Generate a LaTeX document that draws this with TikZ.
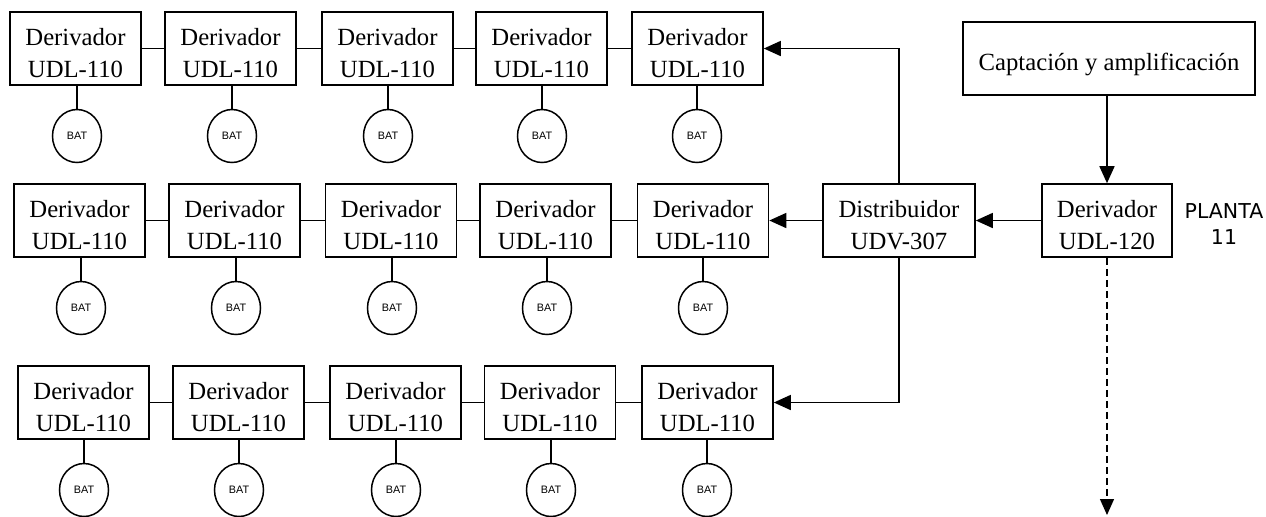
\documentclass[tikz,border=0pt]{standalone}
\usepackage{fontspec}
\setmainfont{Liberation Serif}
\newfontfamily\plantafont{DejaVu Sans}
\newfontfamily\batfont{Liberation Sans}
\usetikzlibrary{arrows.meta,shapes.geometric}

% two-line box label; the strut sets the first line's height
\newcommand{\boxlines}[2]{\rule{0pt}{13pt}#1\\#2}

\tikzset{
  unitbox/.style={draw, line width=0.8pt, minimum width=65.5pt, minimum height=36.5pt,
    inner sep=0pt, align=center, font=\fontsize{12.35}{16}\selectfont},
  batcell/.style={draw, ellipse, line width=0.75pt, minimum width=24.5pt, minimum height=26.5pt,
    inner sep=0pt, font=\batfont\fontsize{5.4}{6}\selectfont},
  link/.style={line width=0.8pt},
  feed/.style={line width=0.8pt, -{Triangle[length=8.5pt,width=7.5pt]}},
  downlink/.style={line width=0.65pt, dash pattern=on 3.5pt off 2pt, -{Triangle[length=8pt,width=7pt]}}
}

\begin{document}
\begin{tikzpicture}[x=0.5pt, y=-0.5pt]
  \useasboundingbox (0,0) rectangle (1266,516);

  % three rows of line taps, each with its battery
  \foreach \r/\by/\cy/\bxs/\cxs in {
      1/48.5/136/{75.5,230.5,387.5,541.5,697.5}/{77,232,388,542,697},
      2/220.5/308/{79.5,234.5,391,545.5,703}/{81,236,392,547,703},
      3/402.5/490/{83.5,238.5,395.5,550,707.5}/{84,239,396,551,707}} {
    \foreach \bx [count=\c] in \bxs {
      \node[unitbox] (r\r c\c) at (\bx,\by) {\boxlines{Derivador}{UDL-110}};
    }
    \foreach \cx [count=\c] in \cxs {
      \node[batcell] (b\r c\c) at (\cx,\cy) {BAT};
      \draw[link] (b\r c\c.north) -- (b\r c\c.north |- r\r c\c.south);
    }
    \foreach \a/\b in {1/2,2/3,3/4,4/5} {
      \draw[link] (r\r c\a.east) -- (r\r c\b.west);
    }
  }

  % head end, floor tap and distributor
  \node[unitbox, minimum width=146pt, text height=12pt, text depth=0pt]
    (head) at (1109,58.5) {Captación y amplificación};
  \node[unitbox, minimum width=65pt] (tap) at (1107,220.5) {\boxlines{Derivador}{UDL-120}};
  \node[unitbox, minimum width=76pt] (dist) at (899,220.5) {\boxlines{Distribuidor}{UDV-307}};
  \node[font=\plantafont\fontsize{10.25}{13}\selectfont, align=center, inner sep=0pt]
    (floor) at (1224,224) {PLANTA\\11};
  \coordinate (below) at (1107,515);

  \draw[feed] (head.south -| tap.north) -- (tap.north);
  \draw[feed] (tap.west) -- (dist.east);
  \draw[feed] (dist.west) -- (r2c5.east);
  \draw[feed] (dist.north) |- (r1c5.east);
  \draw[feed] (dist.south) |- (r3c5.east);
  \draw[downlink] (tap.south) -- (below);
\end{tikzpicture}
\end{document}
